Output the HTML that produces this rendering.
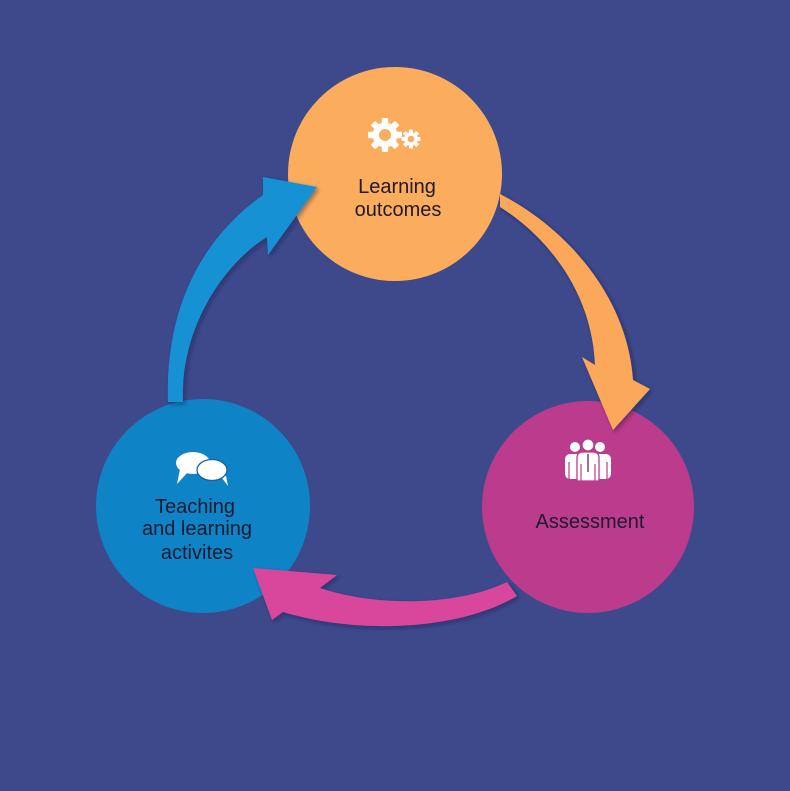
<!DOCTYPE html>
<html>
<head>
<meta charset="utf-8">
<style>
html,body{margin:0;padding:0;background:#3d498b;}
svg{display:block;}
text{font-family:"Liberation Sans",sans-serif;font-size:20px;fill:#1e1a30;text-anchor:middle;}
</style>
</head>
<body>
<svg width="790" height="791" viewBox="0 0 790 791" xmlns="http://www.w3.org/2000/svg">
<defs>
<filter id="sh" x="-20%" y="-20%" width="140%" height="140%">
<feDropShadow dx="2" dy="2" stdDeviation="2" flood-color="#1a1a40" flood-opacity="0.45"/>
</filter>
</defs>
<rect width="790" height="791" fill="#3d498b"/>

<!-- circles -->
<circle cx="395" cy="174" r="107" fill="#fcac5d"/>
<circle cx="588" cy="507" r="106" fill="#bb3c8c"/>
<circle cx="203" cy="506" r="107" fill="#0e84c7"/>

<!-- orange arrow -->
<path filter="url(#sh)" fill="#fca85a" d="M500,207 C545,235 592,290 595,365 L582,357 L613,430 L650,389 L633,380 C628,300 570,230 500,194 Z"/>

<!-- blue arrow -->
<path filter="url(#sh)" fill="#1592d4" d="M168,402 C165,310 200,240 263,195 L263,177 L317,187 L268,255 L267,237 C222,265 180,330 183,402 Z"/>

<!-- pink arrow -->
<path filter="url(#sh)" fill="#d8479b" d="M253,568 L337,575 L320,588 C380,608 460,605 507,582 L517,596 C460,630 360,635 283,612 L272,620 Z"/>

<!-- gears icon -->
<g fill="#ffffff">
  <g transform="translate(385,135)">
    <circle r="12.5"/>
    <rect x="-3.2" y="-17" width="6.4" height="34" rx="1"/>
    <rect x="-3.2" y="-17" width="6.4" height="34" rx="1" transform="rotate(45)"/>
    <rect x="-3.2" y="-17" width="6.4" height="34" rx="1" transform="rotate(90)"/>
    <rect x="-3.2" y="-17" width="6.4" height="34" rx="1" transform="rotate(135)"/>
    <circle r="6" fill="#fcac5d"/>
  </g>
  <g transform="translate(411,139)">
    <circle r="6.8"/>
    <rect x="-2" y="-9.5" width="4" height="19" rx="0.6"/>
    <rect x="-2" y="-9.5" width="4" height="19" rx="0.6" transform="rotate(45)"/>
    <rect x="-2" y="-9.5" width="4" height="19" rx="0.6" transform="rotate(90)"/>
    <rect x="-2" y="-9.5" width="4" height="19" rx="0.6" transform="rotate(135)"/>
    <circle r="3.3" fill="#fcac5d"/>
  </g>
</g>

<!-- people icon -->
<g>
  <circle cx="575" cy="447" r="5" fill="#fff"/>
  <circle cx="600" cy="447" r="5" fill="#fff"/>
  <rect x="565" y="454" width="19" height="25" rx="5" fill="#fff"/>
  <rect x="592" y="454" width="19" height="25" rx="5" fill="#fff"/>
  <line x1="569" y1="462" x2="569" y2="479" stroke="#bb3c8c" stroke-width="1.2"/>
  <line x1="607" y1="462" x2="607" y2="479" stroke="#bb3c8c" stroke-width="1.2"/>
  <circle cx="588" cy="445" r="6" fill="#fff" stroke="#bb3c8c" stroke-width="1.3"/>
  <path d="M577,481 L577,458 Q577,452 583,452 L593,452 Q599,452 599,458 L599,481 Z" fill="#fff" stroke="#bb3c8c" stroke-width="1.3"/>
  <line x1="581" y1="464" x2="581" y2="481" stroke="#bb3c8c" stroke-width="1.2"/>
  <line x1="595" y1="464" x2="595" y2="481" stroke="#bb3c8c" stroke-width="1.2"/>
  <line x1="588" y1="454" x2="588" y2="472" stroke="#8a2a60" stroke-width="1.4"/>
</g>

<!-- speech bubbles -->
<g>
  <ellipse cx="193" cy="463" rx="17" ry="11" fill="#fff"/>
  <polygon points="180,469 188,472 177,484" fill="#fff"/>
  <polygon points="219,474 226,476 228,486" fill="#fff"/>
  <ellipse cx="212" cy="470" rx="15" ry="10.5" fill="#fff" stroke="#1a5f98" stroke-width="1.3"/>
</g>

<!-- labels -->
<text x="397" y="193">Learning</text>
<text x="398" y="216">outcomes</text>
<text x="590" y="528">Assessment</text>
<text x="195" y="513">Teaching</text>
<text x="197" y="535">and learning</text>
<text x="197" y="559">activites</text>
</svg>
</body>
</html>
